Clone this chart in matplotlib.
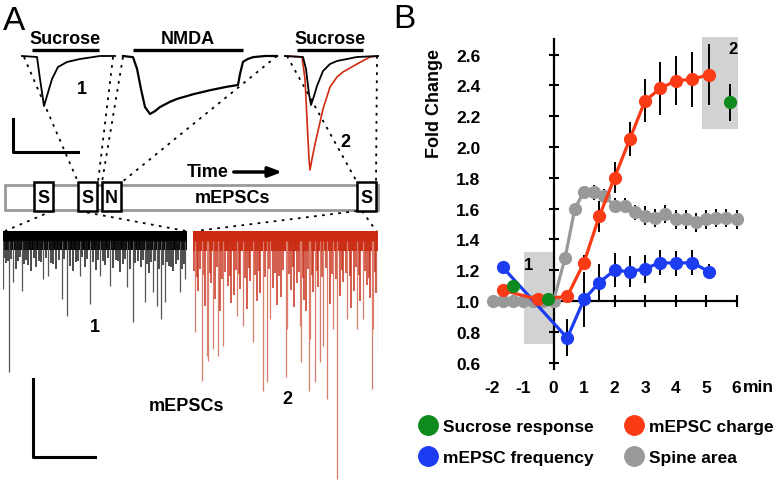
import numpy as np
import matplotlib
matplotlib.use("Agg")
import matplotlib.pyplot as plt
from matplotlib.lines import Line2D
from matplotlib.patches import Rectangle

plt.rcParams['font.family'] = ['Liberation Sans', 'DejaVu Sans']
plt.rcParams['font.weight'] = 'bold'
plt.rcParams['axes.labelweight'] = 'bold'

# ---------------- panel B data (fold change vs. time, min) ----------------
red_x = [-1.67, -0.5, 0.45, 1.0, 1.5, 2.0, 2.5, 3.0, 3.5, 4.0, 4.55, 5.1]
red_y = [1.07, 1.01, 1.03, 1.25, 1.55, 1.80, 2.05, 2.30, 2.38, 2.43, 2.44, 2.47]
red_err = [0, 0, 0, 0.05, 0.10, 0.10, 0.11, 0.14, 0.17, 0.16, 0.18, 0.20]

blue_x = [-1.67, 0.45, 1.0, 1.5, 2.0, 2.5, 3.0, 3.5, 4.0, 4.55, 5.1]
blue_y = [1.22, 0.76, 1.01, 1.12, 1.20, 1.19, 1.21, 1.25, 1.245, 1.25, 1.19]
blue_err = [0, 0.12, 0.18, 0.12, 0.11, 0.10, 0.09, 0.08, 0.08, 0.08, 0.05]

gray_x = [-2.0, -1.67, -1.33, -1.0, -0.67, -0.33, 0.0, 0.38, 0.7, 1.0, 1.33, 1.67,
          2.0, 2.33, 2.67, 3.0, 3.33, 3.67, 4.0, 4.33, 4.67, 5.0, 5.33, 5.67, 6.0]
gray_y = [1.0, 1.0, 1.0, 1.0, 1.0, 1.0, 1.0, 1.28, 1.60, 1.71, 1.705, 1.68,
          1.62, 1.62, 1.575, 1.555, 1.54, 1.565, 1.53, 1.53, 1.51, 1.53, 1.54, 1.54, 1.53]
gray_err = [0, 0, 0, 0, 0, 0, 0, 0, 0.03, 0.04, 0.05, 0.05,
            0.05, 0.05, 0.05, 0.06, 0.06, 0.06, 0.06, 0.06, 0.06, 0.06, 0.06, 0.06, 0.06]

green_x = [-1.33, -0.17, 5.79]
green_y = [1.10, 1.01, 2.29]
green_err = [0, 0, 0.12]

yticks = [0.6, 0.8, 1.0, 1.2, 1.4, 1.6, 1.8, 2.0, 2.2, 2.4, 2.6]
xticks = [-2, -1, 0, 1, 2, 3, 4, 5, 6]

# ---------------- panel A traces ----------------
# sucrose responses, normalised to the first sucrose peak
suc1_t = [0, 15, 18, 22, 25, 30, 36, 45, 58, 78, 93]
suc1_i = [0, -0.02, -0.46, -1.0, -0.80, -0.46, -0.22, -0.12, -0.06, 0, 0]

nmda_t = [0, 10, 14, 18, 22, 27, 32, 37, 47, 54, 70, 87, 104, 115, 117, 120, 125, 130, 142, 154]
nmda_i = [0, -0.02, -0.22, -0.57, -0.88, -1.0, -0.95, -0.88, -0.79, -0.74, -0.66, -0.59,
          -0.53, -0.50, -0.31, -0.10, -0.05, -0.02, 0, 0]

suc2_black_t = [0, 18, 21, 24, 26, 29, 32, 38, 45, 52, 72, 93]
suc2_black_i = [0, -0.02, -0.26, -0.76, -0.98, -0.80, -0.60, -0.30, -0.16, -0.10, -0.02, 0]
suc2_red_t = [0, 17, 20, 22, 24, 25, 27, 30, 33, 38, 45, 52, 58, 72, 85, 93]
suc2_red_i = [0, -0.02, -0.46, -1.26, -2.06, -2.28, -2.06, -1.76, -1.50, -1.06, -0.62,
              -0.42, -0.32, -0.16, -0.02, 0]

# mEPSC events: position along trace and depth below baseline
black_ev_t = [0, 6, 10, 19, 40, 45, 59, 64, 77, 87, 97, 107, 124, 130, 142, 150, 154, 158,
              162, 177, 182]
black_ev_d = [58, 141, 51, 60, 48, 45, 68, 85, 45, 73, 45, 55, 56, 91, 71, 61, 75, 88, 71, 61, 48]
black_small_t = [3, 8, 13, 15, 25, 28, 31, 33, 36, 50, 53, 56, 67, 70, 73, 82, 84, 93, 100,
                 102, 110, 113, 117, 120, 127, 135, 138, 146, 148, 166, 170, 173, 179,
                 1, 5, 17, 21, 23, 38, 43, 48, 61, 75, 79, 90, 95, 105, 115, 122, 132,
                 140, 144, 152, 156, 160, 164, 168, 175, 181]
black_small_d = [32, 28, 38, 30, 34, 40, 27, 36, 30, 33, 38, 29, 35, 40, 31, 36, 28, 39, 30,
                 34, 37, 29, 41, 33, 38, 30, 36, 42, 31, 35, 40, 33, 38,
                 27, 30, 26, 33, 29, 31, 27, 32, 28, 30, 26, 31, 29, 27, 30, 28, 32,
                 29, 33, 30, 38, 34, 31, 36, 29, 33]

red_ev_t = [2, 9, 14, 15, 20, 25, 30, 44, 50, 60, 70, 74, 77, 93, 94, 107, 108, 116, 117,
            122, 127, 130, 134, 140, 144, 154, 164, 170, 179, 180, 185]
red_ev_d = [101, 150, 125, 130, 118, 125, 115, 85, 95, 111, 160, 151, 88, 146, 98, 95, 131,
            160, 108, 151, 131, 115, 168, 98, 248, 88, 98, 88, 158, 98, 123]
red_small_t = [5, 12, 18, 22, 27, 35, 38, 41, 47, 54, 57, 64, 67, 80, 84, 88, 98, 101, 104,
               111, 113, 120, 125, 137, 147, 150, 158, 161, 167, 174, 177, 183,
               1, 4, 7, 10, 17, 24, 29, 32, 37, 43, 46, 52, 56, 62, 66, 72, 76, 82, 86, 90,
               96, 100, 106, 110, 115, 119, 124, 129, 133, 139, 143, 149, 153, 157, 163,
               166, 172, 176, 182]
red_small_d = [60, 75, 52, 68, 80, 55, 72, 64, 58, 78, 50, 70, 62, 57, 74, 66, 59, 76, 52,
               69, 80, 61, 56, 73, 65, 51, 77, 60, 70, 54, 67, 62,
               40, 46, 38, 44, 42, 36, 48, 41, 45, 39, 43, 47, 37, 44, 40, 46, 38, 42, 45, 39,
               43, 36, 41, 47, 38, 44, 40, 46, 37, 43, 48, 39, 42, 45, 36, 44, 40, 47, 41]

W, H = 780, 481
fig = plt.figure(figsize=(W / 100, H / 100), dpi=100)


def px_axes(x0, y0, x1, y1):
    a = fig.add_axes([x0 / W, 1 - y1 / H, (x1 - x0) / W, (y1 - y0) / H])
    a.axis('off')
    return a


# canvas for the schematic parts of panel A
cv = fig.add_axes([0, 0, 1, 1])
cv.set_xlim(0, W)
cv.set_ylim(H, 0)
cv.axis('off')

fs = 13
cv.text(3, 22, 'A', fontsize=24, weight='normal', va='center')
cv.text(393, 20, 'B', fontsize=24, weight='normal', va='center')

for xc, lab, x0, x1 in [(65, 'Sucrose', 32, 99), (188, 'NMDA', 133, 243), (330, 'Sucrose', 297, 363)]:
    cv.text(xc, 40, lab, fontsize=fs, ha='center', va='center')
    cv.plot([x0, x1], [51, 51], color='k', lw=2.4, solid_capstyle='butt')

cv.text(82, 90, '1', fontsize=fs, ha='center', va='center')
cv.text(345, 143, '2', fontsize=fs, ha='center', va='center')

# scale bars
cv.plot([13, 13, 78], [120, 153, 153], color='k', lw=2.2)
cv.plot([33, 33, 95], [380, 458, 458], color='k', lw=2.2)

# protocol bar
cv.add_patch(Rectangle((5, 186), 373, 25, fill=False, ec='#999999', lw=2))
for x0, lab in [(34, 'S'), (78, 'S'), (102, 'N'), (357, 'S')]:
    cv.add_patch(Rectangle((x0, 183), 19, 29, fc='white', ec='k', lw=1.8, zorder=3))
    cv.text(x0 + 9.5, 199, lab, fontsize=fs, ha='center', va='center', zorder=4)
cv.text(233, 199, 'mEPSCs', fontsize=fs, ha='center', va='center')
cv.text(208, 173, 'Time', fontsize=fs, ha='center', va='center')
cv.annotate('', xy=(285, 173), xytext=(231, 173),
            arrowprops=dict(arrowstyle='-|>,head_length=0.8,head_width=0.3', color='k', lw=2.5))

dot = dict(color='k', lw=1.3, ls=(0, (1.5, 3)))
for (xa, ya), (xb, yb) in [((24, 58), (78, 183)), ((113, 58), (98, 183)),
                           ((123, 58), (102, 183)), ((277, 57), (122, 183)),
                           ((287, 57), (357, 183)), ((377, 57), (376, 183)),
                           ((52, 212), (5, 232)), ((79, 212), (186, 232)),
                           ((357, 212), (196, 232)), ((362, 212), (377, 233))]:
    cv.plot([xa, xb], [ya, yb], **dot)

cv.text(95, 328, '1', fontsize=fs, ha='center', va='center')
cv.text(287, 400, '2', fontsize=fs, ha='center', va='center')
cv.text(187, 407, 'mEPSCs', fontsize=fs, ha='center', va='center')

# sucrose / NMDA traces
a1 = px_axes(22, 57, 115, 107)
a1.plot(suc1_t, suc1_i, color='k', lw=1.3, clip_on=False)
a1.set_xlim(0, 93)
a1.set_ylim(-1, 0)

a2 = px_axes(123, 57, 277, 115)
a2.plot(nmda_t, nmda_i, color='k', lw=1.6, clip_on=False)
a2.set_xlim(0, 154)
a2.set_ylim(-1, 0)

a3 = px_axes(285, 57, 378, 107)
a3.plot(suc2_red_t, suc2_red_i, color='#d02a10', lw=1.2, clip_on=False)
a3.plot(suc2_black_t, suc2_black_i, color='k', lw=1.3, clip_on=False)
a3.set_xlim(0, 93)
a3.set_ylim(-1, 0)

# mEPSC traces
m1 = px_axes(3, 232, 187, 482)
m1.set_xlim(0, 184)
m1.set_ylim(-250, 0)
m1.vlines(black_small_t, [-d for d in black_small_d], -10, color='#1a1a1a', lw=1.1)
m1.vlines(black_ev_t, [-d for d in black_ev_d], -10, color='#555555', lw=0.9)
m1.fill_between([0, 184], -19, 1, color='k', lw=0)

m2 = px_axes(193, 232, 378, 482)
m2.set_xlim(0, 185)
m2.set_ylim(-250, 0)
m2.vlines(red_small_t, [-d for d in red_small_d], -10, color='#c8321a', lw=1.1)
m2.vlines(red_ev_t, [-d for d in red_ev_d], -10, color='#dc7c6c', lw=0.9)
m2.fill_between([0, 185], -20, 1, color='#cc2a10', lw=0)

# ---------------- panel B ----------------
ax = fig.add_axes([483.35 / W, 1 - 371.3 / H, 262.3 / W, 338.8 / H])
ax.patch.set_alpha(0)
ax.set_xlim(-2.3, 6.3)
ax.set_ylim(0.55, 2.75)

ax.add_patch(Rectangle((-0.98, 0.72), 0.98, 0.596, fc='#d2d2d2', ec='none', zorder=0))
ax.add_patch(Rectangle((4.86, 2.117), 1.18, 0.6, fc='#d2d2d2', ec='none', zorder=0))
ax.text(-0.82, 1.235, '1', fontsize=12, ha='center', va='center')
ax.text(5.9, 2.64, '2', fontsize=12, ha='center', va='center')

series = [
    (gray_x, gray_y, gray_err, '#999999', '-', 2),
    (blue_x, blue_y, blue_err, '#1c3cf2', '-', 3),
    (red_x, red_y, red_err, '#fb3a16', '-', 4),
    (green_x, green_y, green_err, '#0f8a1e', 'none', 5),
]
for xs, ys, es, c, ls, z in series:
    ax.errorbar(xs, ys, yerr=es, fmt='none', ecolor='k', elinewidth=1.4, capsize=0, zorder=z)
    ax.plot(xs, ys, color=c, ls=ls, lw=2.3, marker='o', markersize=8.5, mec=c, zorder=z + 0.5)

for s in ['top', 'right']:
    ax.spines[s].set_visible(False)
ax.spines['left'].set_position(('data', 0))
ax.spines['bottom'].set_position(('data', 1.0))
ax.spines['left'].set_bounds(0.56, 2.70)
ax.spines['bottom'].set_bounds(0, 6)
ax.spines['left'].set_linewidth(1.6)
ax.spines['bottom'].set_linewidth(1.6)
ax.spines['left'].set_zorder(1)
ax.spines['bottom'].set_zorder(1)

ax.set_yticks(yticks)
ax.set_yticklabels([f'{v:.1f}' for v in yticks])
ax.set_xticks(xticks)
ax.set_xticklabels([str(v) for v in xticks])
ax.tick_params(axis='y', direction='inout', length=7, width=1.5, pad=49, labelsize=12.5)
ax.tick_params(axis='x', direction='inout', length=8, width=1.5, pad=53, labelsize=12.5)
for tk in ax.xaxis.get_major_ticks()[:3]:
    tk.tick1line.set_visible(False)
ax.text(6.2, 0.448, 'min', fontsize=12.5, ha='left', va='center', clip_on=False)

ax.set_ylabel('Fold Change', fontsize=13, weight='bold')
ax.yaxis.set_label_coords(-0.154, 0.789)

handles = [Line2D([], [], ls='', marker='o', markersize=14, color=c)
           for c in ['#0f8a1e', '#1c3cf2', '#fb3a16', '#999999']]
labels = ['Sucrose response', 'mEPSC frequency', 'mEPSC charge', 'Spine area']
fig.legend(handles, labels, ncol=2, loc='upper left', bbox_to_anchor=(417.6 / W, 1 - 420 / H),
           frameon=False, fontsize=12.5, borderpad=0, borderaxespad=0, handlelength=1.2,
           handletextpad=0.26, columnspacing=1.7, labelspacing=0.92)

fig.savefig('out.png', dpi=100)
